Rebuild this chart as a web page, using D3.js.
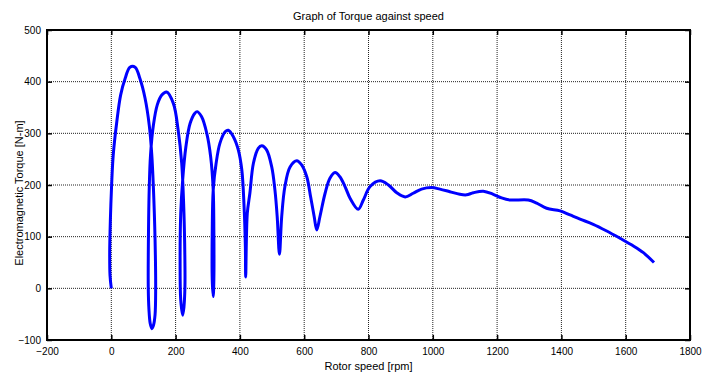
<!DOCTYPE html>
<html>
<head>
<meta charset="utf-8">
<script src="https://cdn.jsdelivr.net/npm/d3@7"></script>
<style>
  body { margin: 0; background: #fff; }
  svg text { font-family: "Liberation Sans Narrow", "Liberation Sans", Arial, sans-serif; fill: #000; }
  .grid line { stroke: #222; stroke-width: 1; stroke-dasharray: 1,1; }
</style>
</head>
<body>
<div id="chart-container"></div>
<script>
// rotor speed [rpm] and electromagnetic torque [N-m]
var speed = [0, -4, -5, -3, 1, 6, 17, 29, 43, 58, 74, 89, 105, 118, 126, 131, 136, 138, 136, 131, 126, 121, 117, 115, 115, 118, 122, 131, 143, 157, 172,
    193, 208, 219, 226, 229, 229, 226, 222, 216, 214, 216, 222, 232, 245, 260, 267,
    281, 297, 309, 317, 319, 319, 317, 314, 314, 317, 326, 338, 354, 364,
    380, 395, 406, 413, 417, 418, 423, 431, 442, 457, 468,
    483, 499, 509, 516, 523, 530, 540, 556, 577,
    592, 608, 620, 631, 639, 649, 665, 680, 696,
    711, 727, 743, 768, 784, 805, 836, 862, 888, 914, 939, 965, 997,
    1022, 1053, 1084, 1105, 1126, 1157, 1188, 1214, 1240, 1297, 1323, 1354, 1396,
    1427, 1458, 1499, 1541, 1582, 1624, 1655, 1688];
var torque = [0, 25, 70, 130, 200, 258, 322, 374, 406, 428, 428, 406, 368, 316, 258, 194, 97, 0, -52, -72, -78, -68, -40, 0, 60, 194, 258, 316, 355, 374, 380,
    358, 306, 242, 145, 48, 3, -36, -52, -23, 48, 145, 210, 274, 319, 339, 342,
    332, 300, 255, 190, 113, 16, -16, 16, 113, 190, 242, 281, 303, 306,
    293, 268, 229, 158, 81, 22, 145, 184, 242, 271, 276,
    268, 235, 190, 139, 66, 139, 197, 235, 247,
    239, 216, 177, 139, 113, 139, 184, 213, 224,
    216, 197, 174, 153, 171, 197, 208, 200, 185, 177, 184, 192, 195,
    192, 187, 182, 181, 185, 188, 182, 175, 171, 171, 165, 155, 150,
    142, 134, 124, 111, 97, 82, 69, 50];

var xTicks = [-200, 0, 200, 400, 600, 800, 1000, 1200, 1400, 1600, 1800];
var yTicks = [-100, 0, 100, 200, 300, 400, 500];

var data = speed.map(function(s, i) { return { s: s, t: torque[i] }; });

var margin = { top: 30, right: 22, bottom: 36, left: 47 };
var width = 712 - margin.left - margin.right;
var height = 376 - margin.top - margin.bottom;

var xScale = d3.scaleLinear().domain([-200, 1800]).range([0, width]);
var yScale = d3.scaleLinear().domain([-100, 500]).range([height, 0]);

var svg = d3.select("#chart-container")
    .append("svg")
    .attr("width", 712)
    .attr("height", 376);

// title
svg.append("text")
    .attr("x", margin.left + width / 2)
    .attr("y", 20)
    .attr("text-anchor", "middle")
    .style("font-size", "11px")
    .text("Graph of Torque against speed");

var g = svg.append("g")
    .attr("transform", "translate(" + margin.left + "," + margin.top + ")");

// dotted grid
var grid = g.append("g").attr("class", "grid");
grid.selectAll(".vx")
    .data(xTicks.slice(1, -1))
    .enter().append("line")
    .attr("x1", d => xScale(d)).attr("x2", d => xScale(d))
    .attr("y1", 0).attr("y2", height);
grid.selectAll(".hy")
    .data(yTicks.slice(1, -1))
    .enter().append("line")
    .attr("x1", 0).attr("x2", width)
    .attr("y1", d => yScale(d)).attr("y2", d => yScale(d));

// axes, ticks pointing inward
var xAxis = d3.axisBottom(xScale).tickValues(xTicks).tickSize(-5).tickPadding(8).tickFormat(d3.format("d"));
var yAxis = d3.axisLeft(yScale).tickValues(yTicks).tickSize(-5).tickPadding(6).tickFormat(d3.format("d"));
var xAxisTop = d3.axisTop(xScale).tickValues(xTicks).tickSize(-5).tickFormat("");
var yAxisRight = d3.axisRight(yScale).tickValues(yTicks).tickSize(-5).tickFormat("");

function styleAxis(sel) {
    sel.select(".domain").remove();
    sel.selectAll(".tick line").attr("stroke", "#000").attr("stroke-width", 1.5);
    sel.selectAll(".tick text").style("font-size", "10px");
}

g.append("g").attr("transform", "translate(0," + height + ")").call(xAxis).call(styleAxis);
g.append("g").call(yAxis).call(styleAxis);
g.append("g").call(xAxisTop).call(styleAxis);
g.append("g").attr("transform", "translate(" + width + ",0)").call(yAxisRight).call(styleAxis);

// the torque-speed curve
var line = d3.line()
    .x(d => xScale(d.s))
    .y(d => yScale(d.t))
    .curve(d3.curveCatmullRom.alpha(0.5));

g.append("path")
    .datum(data)
    .attr("fill", "none")
    .attr("stroke", "#0000ff")
    .attr("stroke-width", 3)
    .attr("stroke-linejoin", "round")
    .attr("d", line);

// frame
g.append("rect")
    .attr("width", width)
    .attr("height", height)
    .attr("fill", "none")
    .attr("stroke", "#000")
    .attr("stroke-width", 2);

// axis labels
svg.append("text")
    .attr("x", margin.left + width / 2)
    .attr("y", 370)
    .attr("text-anchor", "middle")
    .style("font-size", "11px")
    .text("Rotor speed [rpm]");

svg.append("text")
    .attr("transform", "translate(23,193) rotate(-90)")
    .attr("text-anchor", "middle")
    .style("font-size", "11px")
    .text("Electromagnetic Torque [N-m]");
</script>
</body>
</html>
